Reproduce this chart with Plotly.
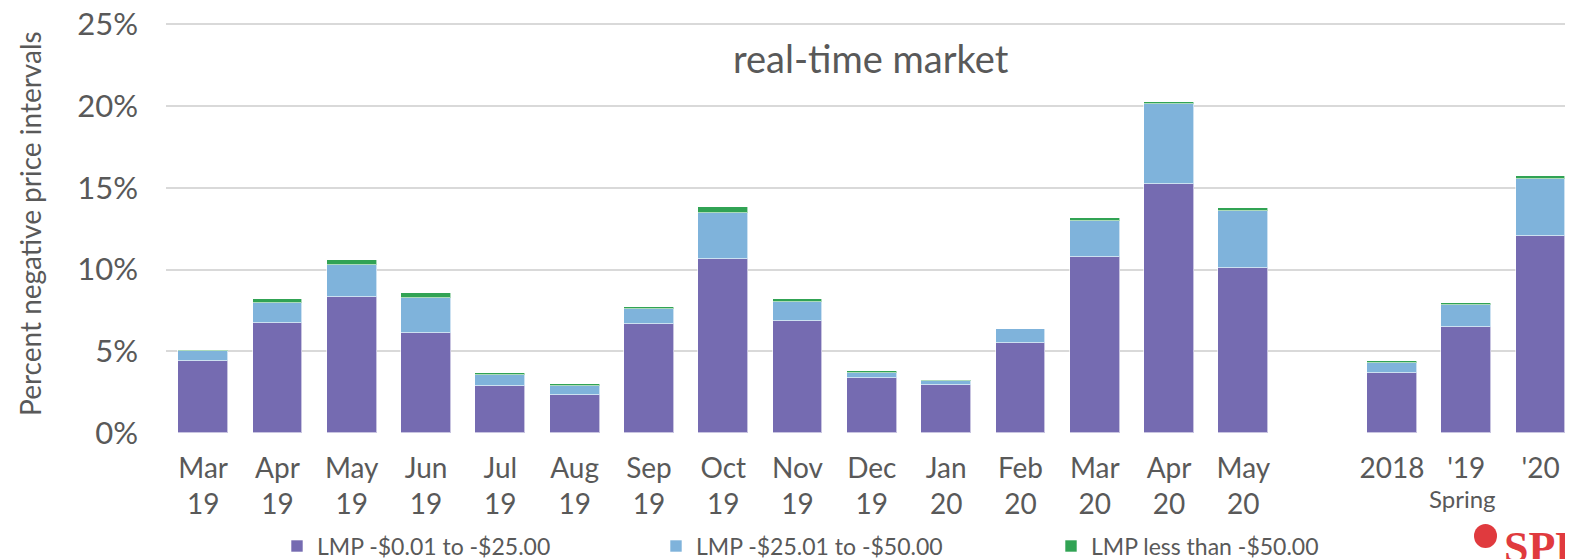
import plotly.graph_objects as go

categories = ["Mar<br>19", "Apr<br>19", "May<br>19", "Jun<br>19", "Jul<br>19", "Aug<br>19",
              "Sep<br>19", "Oct<br>19", "Nov<br>19", "Dec<br>19", "Jan<br>20", "Feb<br>20",
              "Mar<br>20", "Apr<br>20", "May<br>20", "2018", "'19", "'20"]
# slot index on the axis (one empty slot between monthly and spring groups)
slots = [0, 1, 2, 3, 4, 5, 6, 7, 8, 9, 10, 11, 12, 13, 14, 16, 17, 18]

lmp_0_25 = [4.38, 6.75, 8.34, 6.10, 2.90, 2.35, 6.64, 10.65, 6.86, 3.38, 2.96, 5.53,
            10.78, 15.24, 10.10, 3.70, 6.51, 12.06]
lmp_25_50 = [0.65, 1.20, 1.94, 2.15, 0.65, 0.55, 0.92, 2.81, 1.15, 0.28, 0.24, 0.81,
             2.20, 4.86, 3.49, 0.61, 1.29, 3.47]
lmp_lt_50 = [0.06, 0.22, 0.33, 0.31, 0.11, 0.10, 0.15, 0.37, 0.16, 0.15, 0.04, 0.01,
             0.17, 0.17, 0.19, 0.07, 0.15, 0.19]

series_names = ["LMP -$0.01 to -$25.00", "LMP -$25.01 to -$50.00", "LMP less than -$50.00"]
colors = ["#756BB1", "#7FB3DB", "#31A354"]
y_ticks = [0, 5, 10, 15, 20, 25]
y_tick_text = ["0%", "5%", "10%", "15%", "20%", "25%"]

FONT = "Lato"
GREY = "#595959"

# page has an 8px body margin; lay out in page pixels and convert
OFF = 8
W, H = 1573 - OFF, 559 - OFF
YMAX = 25.2
PL, PB = 166, 433                      # plot left / bottom in page pixels
PX_PER_UNIT = (433 - 24.5) / 25.0
PT = PB - YMAX * PX_PER_UNIT           # plot top in page pixels
L, T = PL - OFF, PT - OFF
B = H - (PB - OFF)
plot_w = W - L
plot_h = H - T - B
slot_px = 74.3
xmax = -0.5 + plot_w / slot_px


def px(xp):
    return (xp - PL) / plot_w


def py(yp):
    return (PB - yp) / plot_h


fig = go.Figure()
for i, (vals, name, col) in enumerate(zip([lmp_0_25, lmp_25_50, lmp_lt_50], series_names, colors)):
    fig.add_trace(go.Bar(
        x=slots, y=vals, name=name, width=0.67,
        marker=dict(color=col, line=dict(color="rgba(255,255,255,0.6)", width=1)),
        legend="legend" if i == 0 else f"legend{i+1}",
    ))

legend_common = dict(orientation="h", yanchor="middle", y=py(546), xanchor="left",
                     font=dict(family=FONT, size=23, color=GREY), itemwidth=30,
                     bgcolor="rgba(0,0,0,0)")

fig.update_layout(
    width=W, height=H,
    margin=dict(l=L, r=0, t=T, b=B, autoexpand=False),
    barmode="stack",
    bargap=0,
    plot_bgcolor="white", paper_bgcolor="white",
    font=dict(family=FONT, color=GREY),
    showlegend=True,
    legend=dict(x=px(277), **legend_common),
    legend2=dict(x=px(656), **legend_common),
    legend3=dict(x=px(1051), **legend_common),
    xaxis=dict(
        range=[-0.5, xmax], tickmode="array", tickvals=slots, ticktext=categories,
        showgrid=False, zeroline=False, showline=False, ticks="",
        tickfont=dict(family=FONT, size=28, color=GREY), ticklabelstandoff=16,
    ),
    yaxis=dict(
        range=[0, YMAX], tickmode="array", tickvals=y_ticks, ticktext=y_tick_text,
        showgrid=True, gridcolor="#D9D9D9", gridwidth=1.5, zeroline=False,
        showline=False, ticks="", ticklabeloverflow="allow",
        tickfont=dict(family=FONT, size=31, color=GREY), ticklabelstandoff=27,
    ),
    annotations=[
        dict(text="real-time market", xref="paper", yref="paper", x=px(871), y=py(58),
             showarrow=False, font=dict(family=FONT, size=38, color=GREY),
             xanchor="center", yanchor="middle"),
        dict(text="Percent negative price intervals", xref="paper", yref="paper",
             x=px(30), y=py(224), textangle=-90, showarrow=False,
             font=dict(family=FONT, size=28, color=GREY), xanchor="center", yanchor="middle"),
        dict(text="Spring", xref="x", yref="paper", x=16.95, y=py(498),
             showarrow=False, font=dict(family=FONT, size=24, color=GREY),
             xanchor="center", yanchor="middle"),
        dict(text="<b>SPP</b>", xref="paper", yref="paper", x=px(1502),
             y=py(547), showarrow=False, xanchor="left", yanchor="middle",
             font=dict(family="Liberation Serif", size=44, color="#E03A3E")),
    ],
    shapes=[
        dict(type="circle", xref="paper", yref="paper",
             x0=px(1474), x1=px(1497), y0=py(548), y1=py(524),
             fillcolor="#E03A3E", line=dict(width=0)),
    ],
)

fig.write_html("out.html")
